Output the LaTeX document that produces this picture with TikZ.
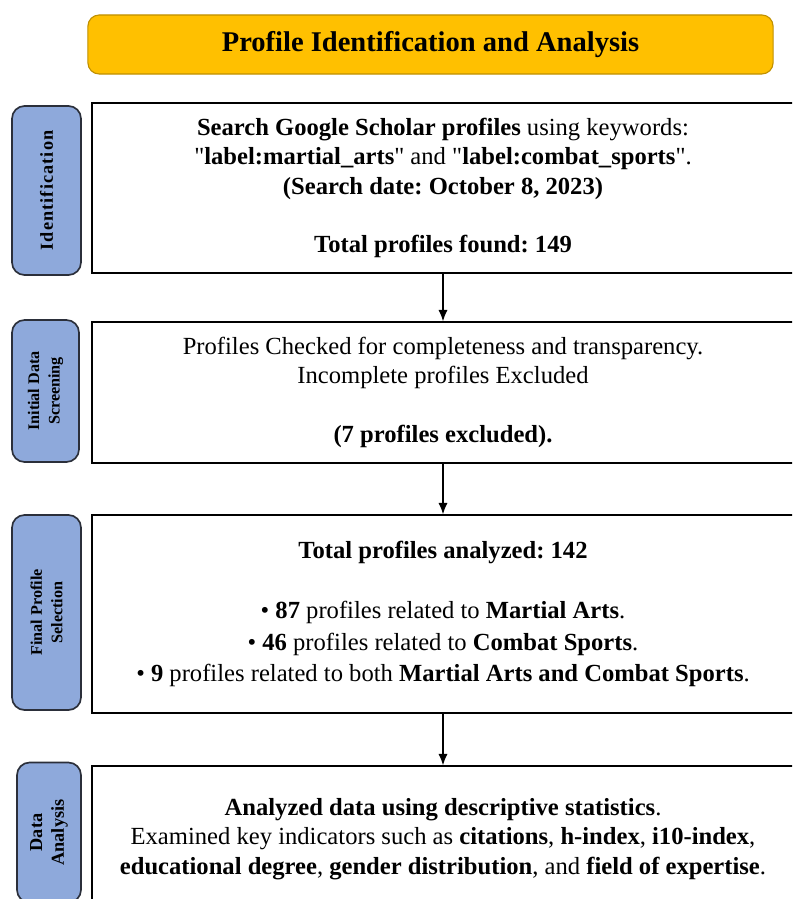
\documentclass[tikz,border=0pt]{standalone}
\usepackage{fontspec}
\setmainfont{Liberation Serif}
\usepackage{tikz}
\usetikzlibrary{arrows.meta, positioning}
\usepackage{xcolor}
\definecolor{titlegold}{HTML}{FFC000}
\definecolor{titleedge}{HTML}{C09000}
\definecolor{phaseblue}{HTML}{8EA9DB}
\definecolor{phaseedge}{HTML}{2B2F3A}
\newcommand{\qt}{\textquotedbl}
\frenchspacing

\tikzset{
    banner/.style={draw=titleedge, fill=titlegold, rounded corners=8pt, line width=0.8pt,
        font=\fontsize{20.3}{24}\selectfont\bfseries},
    phase/.style={draw=phaseedge, fill=phaseblue, rounded corners=9pt, line width=1.2pt,
        rotate=90, align=center, inner sep=0pt},
    stepbox/.style={draw, line width=1.1pt, align=center, inner sep=0pt,
        font=\fontsize{17.5}{20.8}\selectfont},
    flow/.style={-{Latex[length=8pt,width=6.5pt]}, line width=0.8pt}
}

\begin{document}
\begin{tikzpicture}[x=0.025cm, y=-0.025cm]
    \path[use as bounding box, clip] (0,0) rectangle (792,899);

    \node[banner, minimum width=17.125cm, minimum height=1.475cm] (title) at (430.5,44.5)
        {Profile Identification and Analysis};

    % main steps
    \node[stepbox, minimum width=17.55cm, minimum height=4.25cm] (idbox) at (443,188)
        {\textbf{Search Google Scholar profiles} using keywords:\\
         \qt\textbf{label:martial\_arts}\qt{} and \qt\textbf{label:combat\_sports}\qt.\\
         \textbf{(Search date: October 8, 2023)}\\[20.8pt]
         \textbf{Total profiles found: 149}};
    \node[stepbox, minimum width=17.55cm, minimum height=3.525cm] (scrbox) at (443,392.5)
        {Profiles Checked for completeness and transparency.\\
         Incomplete profiles Excluded\\[20.8pt]
         \textbf{(7 profiles excluded).}};
    \node[stepbox, minimum width=17.55cm, minimum height=4.95cm] (selbox) at (443,614)
        {\textbf{Total profiles analyzed: 142}\\[22pt]
         \textbullet\ \textbf{87} profiles related to \textbf{Martial Arts}.\\[1.5pt]
         \textbullet\ \textbf{46} profiles related to \textbf{Combat Sports}.\\[1.5pt]
         \textbullet\ \textbf{9} profiles related to both \textbf{Martial Arts and Combat Sports}.};
    \node[stepbox, minimum width=17.55cm, minimum height=3.65cm] (anabox) at (443,839)
        {\textbf{Analyzed data using descriptive statistics}.\\
         Examined key indicators such as \textbf{citations}, \textbf{h-index}, \textbf{i10-index},\\
         \textbf{educational degree}, \textbf{gender distribution}, and \textbf{field of expertise}.};

    % phase labels
    \node[phase, minimum width=4.225cm, minimum height=1.725cm,
        font=\fontsize{13}{15}\selectfont\bfseries\addfontfeature{LetterSpace=6}] (idlab) at (46.5,190.5)
        {Identification};
    \node[phase, minimum width=3.55cm, minimum height=1.675cm,
        font=\fontsize{11.5}{14.5}\selectfont\bfseries] (scrlab) at (45.5,391)
        {Initial Data\\Screening};
    \node[phase, minimum width=4.875cm, minimum height=1.725cm,
        font=\fontsize{11.5}{14.5}\selectfont\bfseries] (sellab) at (46.5,612.5)
        {Final Profile\\Selection};
    \node[phase, minimum width=3.5cm, minimum height=1.6cm,
        font=\fontsize{13}{15.5}\selectfont\bfseries] (analab) at (49,832.5)
        {Data\\Analysis};

    \draw[flow] (idbox) -- (scrbox);
    \draw[flow] (scrbox) -- (selbox);
    \draw[flow] (selbox) -- (anabox);
\end{tikzpicture}
\end{document}
